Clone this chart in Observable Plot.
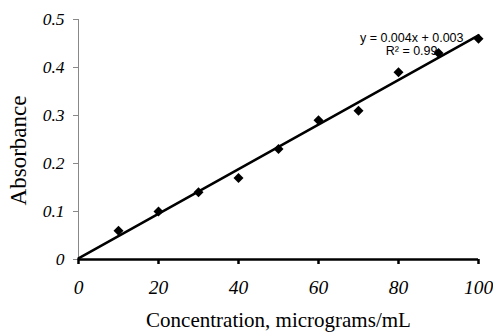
<!DOCTYPE html>
<html>
<head>
<meta charset="utf-8">
<script src="https://cdn.jsdelivr.net/npm/d3@7"></script>
<script src="https://cdn.jsdelivr.net/npm/@observablehq/plot@0.6"></script>
<style>
  html, body { margin: 0; padding: 0; background: #fff; }
</style>
</head>
<body>
<div id="chart"></div>
<script>
const concentration = [0, 10, 20, 30, 40, 50, 60, 70, 80, 90, 100];
const absorbance = [0, 0.06, 0.10, 0.14, 0.17, 0.23, 0.29, 0.31, 0.39, 0.43, 0.46];
const xTicks = [0, 20, 40, 60, 80, 100];
const yTicks = [0, 0.1, 0.2, 0.3, 0.4, 0.5];
const yTickLabels = ["0", "0.1", "0.2", "0.3", "0.4", "0.5"];
const equationText = "y = 0.004x + 0.003";
const r2Text = "R² = 0.99";
const xTitle = "Concentration, micrograms/mL";
const yTitle = "Absorbance";

const data = concentration.map((c, i) => ({c, a: absorbance[i]}));

const serif = "'Liberation Serif', 'Times New Roman', serif";
const sans = "'Liberation Sans', Arial, sans-serif";

const chart = Plot.plot({
  width: 493,
  height: 332,
  marginLeft: 78,
  marginRight: 15,
  marginTop: 19,
  marginBottom: 73,
  style: {fontFamily: serif, background: "#fff", color: "#000"},
  x: {domain: [0, 100]},
  y: {domain: [0, 0.5]},
  marks: [
    Plot.ruleX([0], {stroke: "#888", strokeWidth: 1}),
    Plot.axisY({
      ticks: yTicks,
      tickFormat: (d, i) => yTickLabels[i],
      tickSize: 5,
      tickPadding: 9,
      stroke: "#888",
      fontSize: 17.5,
      fontStyle: "italic",
      fill: "#000",
      label: null
    }),
    Plot.axisX({
      ticks: xTicks,
      tickSize: 5,
      tickPadding: 16,
      strokeWidth: 2.5,
      fontSize: 19.5,
      fontStyle: "italic",
      fill: "#000",
      label: null
    }),
    Plot.ruleY([0], {stroke: "#000", strokeWidth: 2.5}),
    Plot.linearRegressionY(data, {x: "c", y: "a", stroke: "#000", strokeWidth: 2.5, ci: 0}),
    Plot.dot(data.filter(d => d.c > 0), {x: "c", y: "a", symbol: "diamond2", r: 4.5, fill: "#000", stroke: "none"}),
    Plot.text([equationText], {frameAnchor: "top-right", dx: -15, dy: 14, fontFamily: sans, fontSize: 12.5, fill: "#000"}),
    Plot.text([r2Text], {frameAnchor: "top-right", dx: -41, dy: 27, fontFamily: sans, fontSize: 12.5, fill: "#000"}),
    Plot.text([xTitle], {frameAnchor: "bottom", dy: 67, fontSize: 21, fill: "#000"}),
    Plot.text([yTitle], {frameAnchor: "left", textAnchor: "middle", dx: -60, dy: 11, rotate: -90, fontSize: 23, fill: "#000"})
  ]
});
document.getElementById("chart").appendChild(chart);
</script>
</body>
</html>
